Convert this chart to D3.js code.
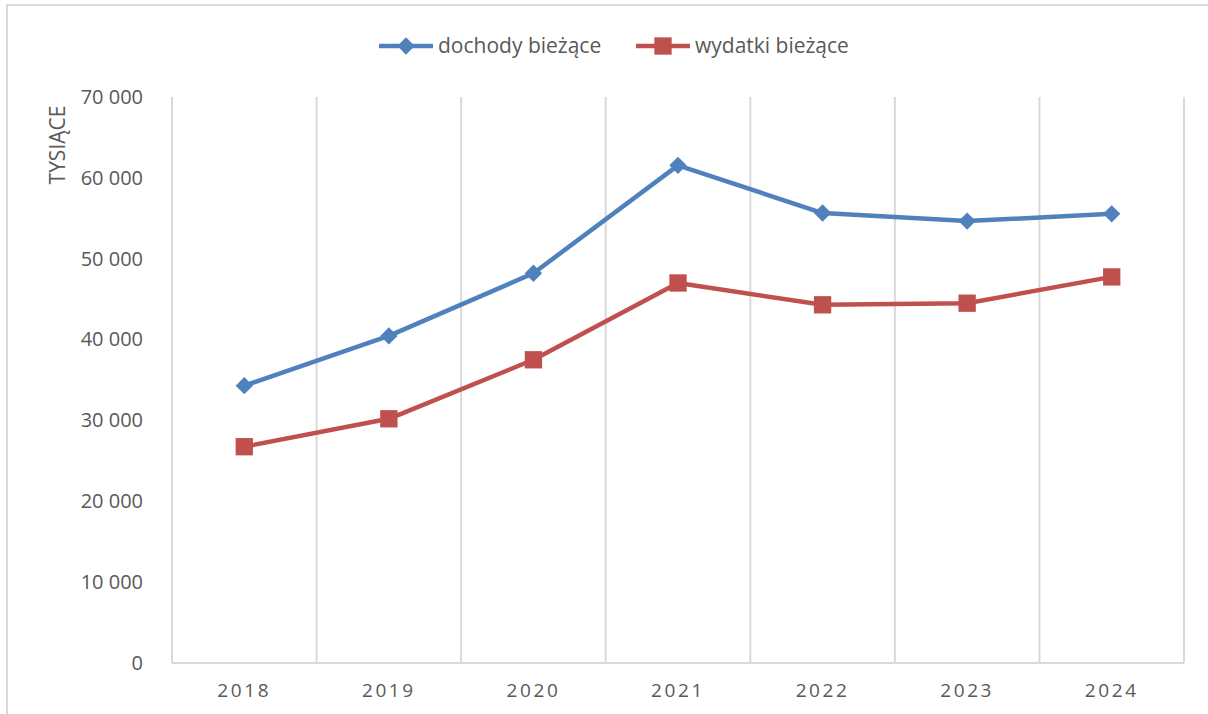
<!DOCTYPE html>
<html><head><meta charset="utf-8">
<script src="https://cdn.jsdelivr.net/npm/d3@7"></script>
<style>body{margin:0;background:#fff;font-family:"Open Sans",sans-serif;}</style>
</head><body>
<svg id="c" width="1208" height="714"></svg>
<script>
const years = ["2018","2019","2020","2021","2022","2023","2024"];
const dochody = [34300, 40450, 48200, 61550, 55650, 54650, 55550];
const wydatki = [26750, 30200, 37500, 47000, 44300, 44500, 47750];
const yTicks = [0,10000,20000,30000,40000,50000,60000,70000];
const seriesNames = ["dochody bieżące","wydatki bieżące"];

const svg = d3.select("#c");
const m={l:172,r:1184,t:97,b:663};
const grey="#d9d9d9", txt="#595959";
const blue="#4f81bd", red="#c0504d";

svg.append("rect").attr("x",7).attr("y",5).attr("width",1220).attr("height",720)
  .attr("fill","#fff").attr("stroke",grey).attr("stroke-width",2);

const x=d3.scaleBand().domain(years).range([m.l,m.r]).padding(0);
const y=d3.scaleLinear().domain([0,70000]).range([m.b,m.t]);

const bounds = years.map(d=>x(d)).concat([m.r]);
svg.append("g").selectAll("line").data(bounds).join("line")
  .attr("x1",d=>d).attr("x2",d=>d).attr("y1",m.t).attr("y2",m.b)
  .attr("stroke",grey).attr("stroke-width",2);
svg.append("line").attr("x1",m.l).attr("x2",m.r).attr("y1",m.b).attr("y2",m.b)
  .attr("stroke",grey).attr("stroke-width",2);

const fmt = v => d3.format(",")(v).replace(/,/g," ");
const ya = svg.append("g").attr("transform",`translate(${m.l},0)`)
  .call(d3.axisLeft(y).tickValues(yTicks).tickFormat(fmt).tickSize(0).tickPadding(29));
ya.select(".domain").remove();
ya.selectAll("text").attr("fill",txt).style("font-size","20px").style("font-family","'Open Sans',sans-serif");

const xa = svg.append("g").attr("transform",`translate(0,${m.b})`)
  .call(d3.axisBottom(x).tickSize(0).tickPadding(21));
xa.select(".domain").remove();
xa.selectAll("text").attr("fill",txt).style("font-size","19px").style("letter-spacing","2.6px")
  .style("font-family","'Open Sans',sans-serif");

svg.append("text").attr("transform","translate(65,145) rotate(-90)").attr("text-anchor","middle")
  .attr("fill",txt).style("font-size","21px").text("TYSIĄCE");

const line=d3.line().x((d,i)=>x(years[i])+x.bandwidth()/2).y(d=>y(d));
const data=[{v:dochody,c:blue,diamond:true},{v:wydatki,c:red,diamond:false}];
data.forEach(s=>{
  svg.append("path").datum(s.v).attr("d",line).attr("fill","none").attr("stroke",s.c).attr("stroke-width",4.5).attr("stroke-linejoin","round");
});
data.forEach(s=>{
  svg.append("g").selectAll("path").data(s.v).join("path")
   .attr("d",d3.symbol().type(d3.symbolSquare).size(s.diamond?150:300))
   .attr("transform",(d,i)=>`translate(${x(years[i])+x.bandwidth()/2},${y(d)})` + (s.diamond?" rotate(45)":""))
   .attr("fill",s.c);
});

const leg=[{n:seriesNames[0],c:blue,x:379,diamond:true},{n:seriesNames[1],c:red,x:636,diamond:false}];
leg.forEach(l=>{
  const g=svg.append("g").attr("transform",`translate(${l.x},46)`);
  g.append("line").attr("x1",0).attr("x2",54).attr("stroke",l.c).attr("stroke-width",4.5);
  g.append("path").attr("d",d3.symbol().type(d3.symbolSquare).size(l.diamond?150:300)())
   .attr("transform",`translate(27,0)`+(l.diamond?" rotate(45)":"")).attr("fill",l.c);
  g.append("text").attr("x",59).attr("y",0).attr("dy","0.35em").attr("fill",txt)
   .style("font-size","21px").text(l.n);
});
</script>
</body></html>
